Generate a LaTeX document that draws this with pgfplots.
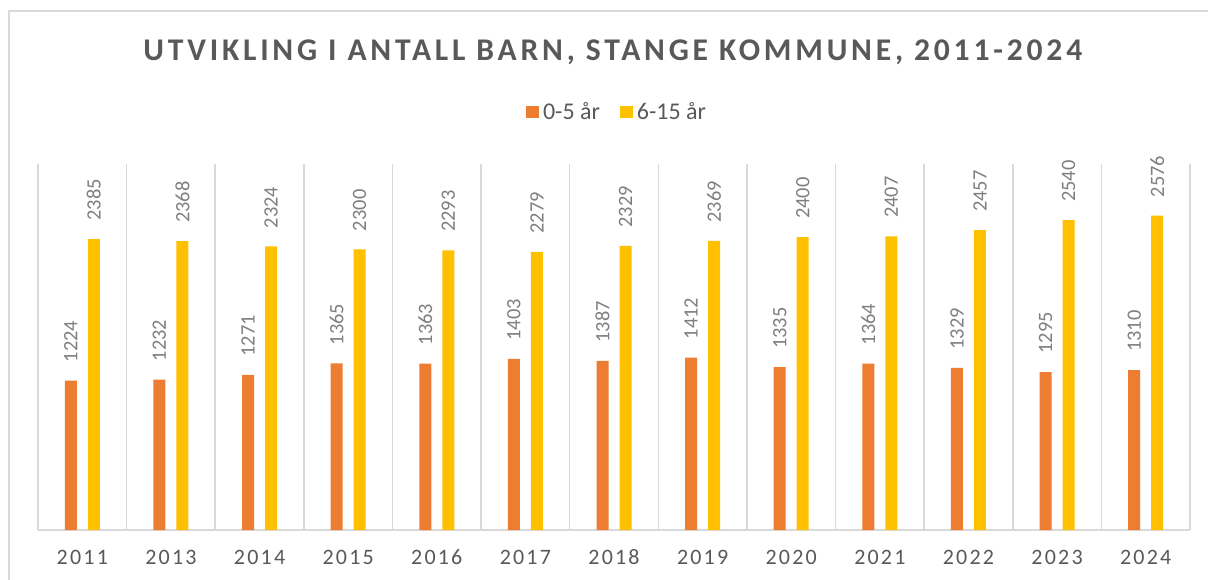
\documentclass[border=0pt]{standalone}
\usepackage{fontspec}
\setmainfont{Carlito}
\newfontfamily\spacedfont[LetterSpace=10]{Carlito}
\newfontfamily\titlefont[LetterSpace=12]{Carlito}
\usepackage{pgfplots}
\pgfplotsset{compat=1.18}

\definecolor{orangebar}{HTML}{ED7D31}
\definecolor{yellowbar}{HTML}{FFC000}
\definecolor{gridgray}{HTML}{D9D9D9}
\definecolor{textgray}{HTML}{595959}
\definecolor{labelgray}{HTML}{7F7F7F}

\begin{document}
\begin{tikzpicture}
\useasboundingbox (0,0) rectangle (604bp,290bp);
\fill[white] (0,0) rectangle (604bp,290bp);
% chart frame (cut off at right and bottom in the reference)
\draw[gridgray, line width=0.75bp] (4.5bp,0) -- (4.5bp,284.5bp) -- (604bp,284.5bp);

\begin{axis}[
  at={(19bp,25bp)}, anchor=south west,
  scale only axis, width=576bp, height=183bp,
  clip=false,
  ybar=5.5bp, bar width=6bp,
  xmin=-0.5, xmax=12.5, ymin=0, ymax=3000,
  xtick={0,...,12},
  xticklabels={2011,2013,2014,2015,2016,2017,2018,2019,2020,2021,2022,2023,2024},
  ytick=\empty,
  minor xtick={-0.5,0.5,...,12.5},
  xminorgrids,
  minor x grid style={gridgray, line width=0.75bp},
  axis x line*=bottom, axis y line=none,
  x axis line style={gridgray, line width=0.75bp},
  major tick length=0pt, minor tick length=0pt,
  xticklabel style={font=\spacedfont\fontsize{11bp}{13bp}\selectfont, text=textgray,
    text height=7bp, text depth=0pt, yshift=-6.5bp},
  nodes near coords={\pgfmathprintnumber[1000 sep={},assume math mode=true]{\pgfplotspointmeta}},
  every node near coord/.append style={rotate=90, anchor=west,
    font=\fontsize{10.2bp}{12bp}\selectfont, text=labelgray, inner xsep=9bp, inner ysep=0pt},
  legend columns=2,
  legend style={at={(0.5035,1.142)}, anchor=center, draw=none, fill=none,
    font=\fontsize{12bp}{14bp}\selectfont, text=textgray,
    /tikz/every even column/.append style={column sep=8bp}},
  legend image code/.code={\fill[#1] (0bp,-3bp) rectangle (6.5bp,3bp);},
]
\addplot[fill=orangebar, draw=none] coordinates {
  (0,1224) (1,1232) (2,1271) (3,1365) (4,1363) (5,1403) (6,1387)
  (7,1412) (8,1335) (9,1364) (10,1329) (11,1295) (12,1310)};
\addplot[fill=yellowbar, draw=none] coordinates {
  (0,2385) (1,2368) (2,2324) (3,2300) (4,2293) (5,2279) (6,2329)
  (7,2369) (8,2400) (9,2407) (10,2457) (11,2540) (12,2576)};
\legend{0-5 år, 6-15 år}
\end{axis}

\node[anchor=base, font=\titlefont\bfseries\fontsize{15.8bp}{18bp}\selectfont, text=textgray]
  at (306.4bp,259.65bp) {UTVIKLING I ANTALL BARN, STANGE KOMMUNE, 2011-2024};
\end{tikzpicture}
\end{document}
